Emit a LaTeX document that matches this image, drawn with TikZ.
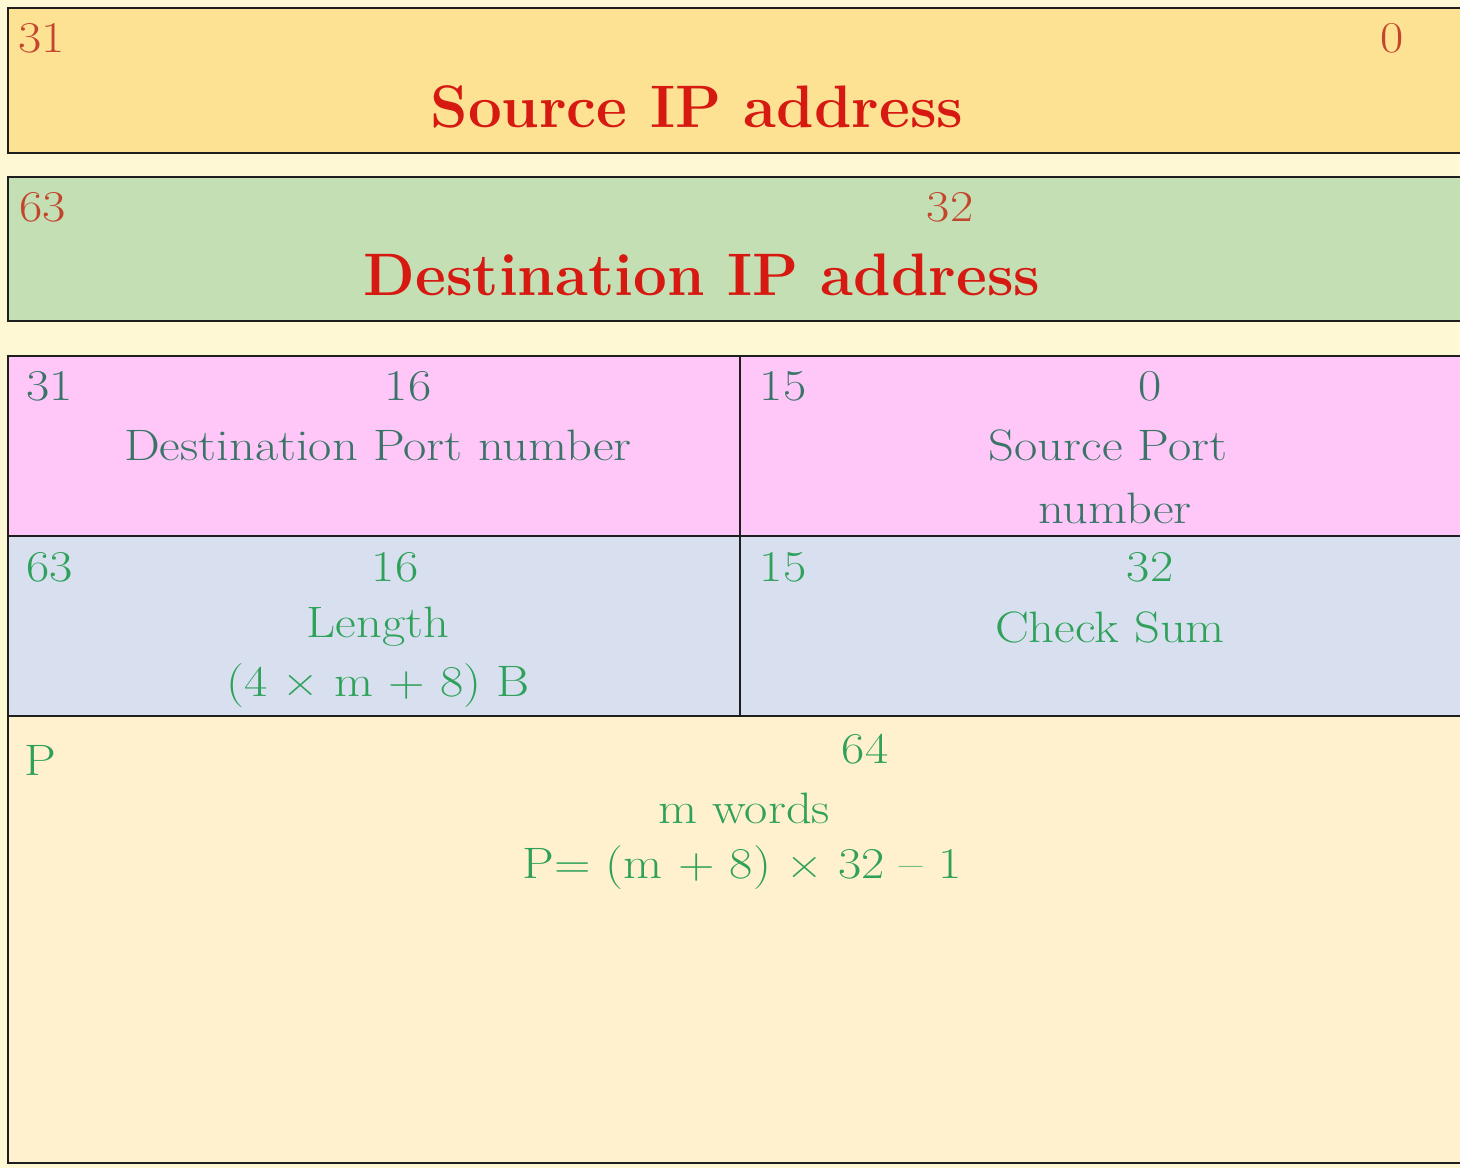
\documentclass[tikz,border=0pt]{standalone}
\usepackage{fontspec}
\newfontfamily\widefont{Latin Modern Roman}[FakeStretch=1.15]
\definecolor{bgc}{HTML}{FEF9D4}
\definecolor{srcfill}{HTML}{FDE294}
\definecolor{dstfill}{HTML}{C4DFB4}
\definecolor{pinkfill}{HTML}{FFC7F8}
\definecolor{bluefill}{HTML}{D8E0F0}
\definecolor{creamfill}{HTML}{FFF1CE}
\definecolor{numred}{HTML}{C2452C}
\definecolor{titlered}{HTML}{D61A12}
\definecolor{tealtxt}{HTML}{3A7468}
\definecolor{greentxt}{HTML}{2FA15A}
\definecolor{edge}{HTML}{1E1E1E}
\tikzset{
  boxline/.style={draw=edge, line width=1.4pt},
  rednum/.style={text=numred, font=\widefont\fontsize{22}{26}\selectfont, inner sep=0pt},
  title/.style={text=titlered, font=\fontsize{30}{34}\selectfont\bfseries, inner sep=0pt},
  tealt/.style={text=tealtxt, font=\widefont\fontsize{22}{26}\selectfont, inner sep=0pt},
  greent/.style={text=greentxt, font=\widefont\fontsize{22}{26}\selectfont, inner sep=0pt},
}
\begin{document}
\begin{tikzpicture}[x=0.5pt,y=-0.5pt]
\useasboundingbox (0,0) rectangle (1460,1168);
\clip (0,0) rectangle (1460,1168);
\fill[bgc] (0,0) rectangle (1460,1168);
% top two boxes
\filldraw[boxline, fill=srcfill] (8,8) rectangle (1475,153);
\filldraw[boxline, fill=dstfill] (8,177) rectangle (1475,321);
% table rows
\fill[pinkfill] (8,356) rectangle (1475,536);
\fill[bluefill] (8,536) rectangle (1475,716);
\fill[creamfill] (8,716) rectangle (1475,1163);
\draw[boxline] (8,356) rectangle (1475,1163);
\draw[boxline] (8,536) -- (1475,536);
\draw[boxline] (8,716) -- (1475,716);
\draw[boxline] (740,356) -- (740,716);
% texts box1
\node[rednum] (s31) at (42,38) {31};
\node[rednum] (s0) at (1392,38) {0};
\node[title] (stitle) at (697,107) {Source IP address};
% box2
\node[rednum] (d63) at (43,207) {63};
\node[rednum] (d32) at (950,207) {32};
\node[title] (dtitle) at (702,275) {Destination IP address};
% row 3
\node[tealt] (p31) at (50,386) {31};
\node[tealt] (p16) at (408,386) {16};
\node[tealt] (pdst) at (378,445) {Destination Port number};
\node[tealt] (p15) at (783,386) {15};
\node[tealt] (p0) at (1150,386) {0};
\node[tealt] (psrc) at (1108,445) {Source Port};
\node[tealt] (psrc2) at (1115,508) {number};
% row 4
\node[greent] (l63) at (50,567) {63};
\node[greent] (l16) at (395,567) {16};
\node[greent] (llen) at (378,627) {Length};
\node[greent] (lform) at (378,686) {(4 × m + 8) B};
\node[greent] (l15) at (783,567) {15};
\node[greent] (l32) at (1150,567) {32};
\node[greent] (lchk) at (1110,627) {Check Sum};
% row 5
\node[greent] (dp) at (40,760) {P};
\node[greent] (d64) at (865,749) {64};
\node[greent] (dm) at (744,808) {m words};
\node[greent] (dform) at (742,868) {P= (m + 8) × 32 – 1};
\end{tikzpicture}
\end{document}
